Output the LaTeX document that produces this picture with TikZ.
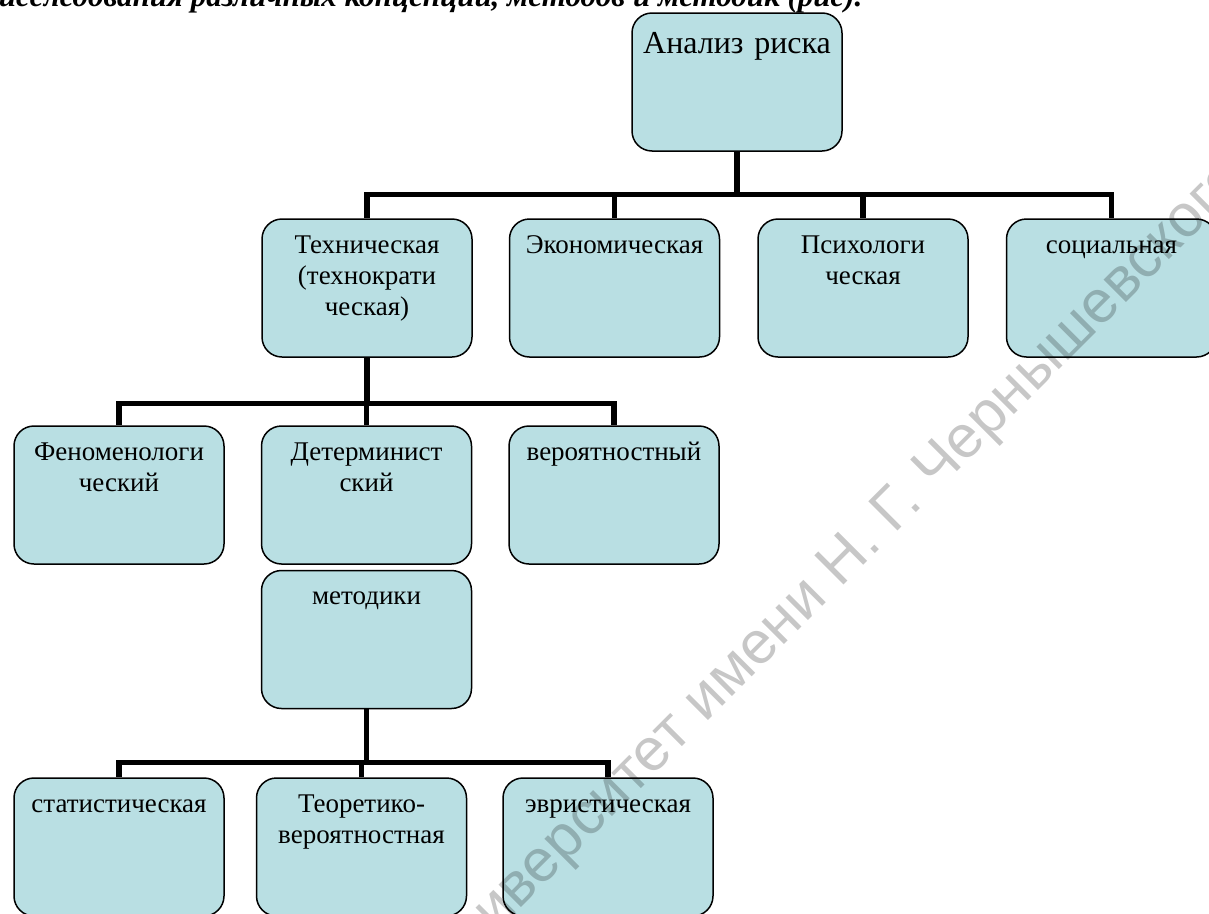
\documentclass[tikz,border=0pt]{standalone}
\usepackage{fontspec}
\setmainfont{Liberation Serif}
\newfontfamily\wmfont{Liberation Sans}
\usetikzlibrary{positioning}
\definecolor{boxfill}{HTML}{B9DFE3}
\tikzset{
    riskbox/.style={draw=black,fill=boxfill,line width=1.5pt,rounded corners=20pt,
      text width=202pt,inner xsep=4pt,inner ysep=0pt,align=center,
      text height=34pt,text depth=104pt,
      font=\fontsize{27}{31}\selectfont},
    rootbox/.style={riskbox,text height=40pt,text depth=98pt,
      font=\fontsize{32}{36}\selectfont},
    bus/.style={draw=black,line width=5.5pt,
      to path={|- ([yshift=#1]\tikztotarget) -- (\tikztotarget)}},
    bus/.default=22pt,
    watermark/.style={text=black,text opacity=0.22,rotate=45,anchor=base west,
      font=\wmfont\fontsize{60}{66}\selectfont}
}

\begin{document}
\begin{tikzpicture}[x=1pt,y=-1pt]
  \path[use as bounding box] (0,0) rectangle (1209,913);
  \clip (0,0) rectangle (1209,913);
  % caption line, cut by the page edge
  \node[anchor=base east,font=\bfseries\itshape\fontsize{31}{36}\selectfont] (caption) at (866,6)
    {исследования различных концепций, методов и методик (рис).};
  \node[rootbox] (risk) at (737,82) {Анализ риска};
  % first level
  \node[riskbox] (tech) at (367,288) {Техническая\\(технократи\\ческая)};
  \node[riskbox,right=36pt of tech] (econ) {Экономическая};
  \node[riskbox,right=37pt of econ] (psych) {Психологи\\ческая};
  \node[riskbox,right=37pt of psych] (social) {социальная};
  % second level
  \node[riskbox] (phen) at (119,495) {Феноменологи\\ческий};
  \node[riskbox,right=36pt of phen] (determ) {Детерминист\\ский};
  \node[riskbox,right=36pt of determ] (prob) {вероятностный};
  \node[riskbox,below=5pt of determ] (method) {методики};
  % third level
  \node[riskbox] (stat) at (119,847) {статистическая};
  \node[riskbox,right=31pt of stat] (theor) {Теоретико-\\вероятностная};
  \node[riskbox,right=35pt of theor] (heur) {эвристическая};
  \draw[bus=24pt] (risk.south) to (tech.north) (risk.south) to (econ.north)
    (risk.south) to (psych.north) (risk.south) to (social.north);
  \draw[bus=22pt] (tech.south) to (phen.north) (tech.south) to (determ.north)
    (tech.south) to (prob.north);
  \draw[bus=15pt] (method.south) to (stat.north) (method.south) to (theor.north)
    (method.south) to (heur.north);
  \node[watermark] (wm) at (448,981) {университет имени Н. Г. Чернышевского};
\end{tikzpicture}
\end{document}
